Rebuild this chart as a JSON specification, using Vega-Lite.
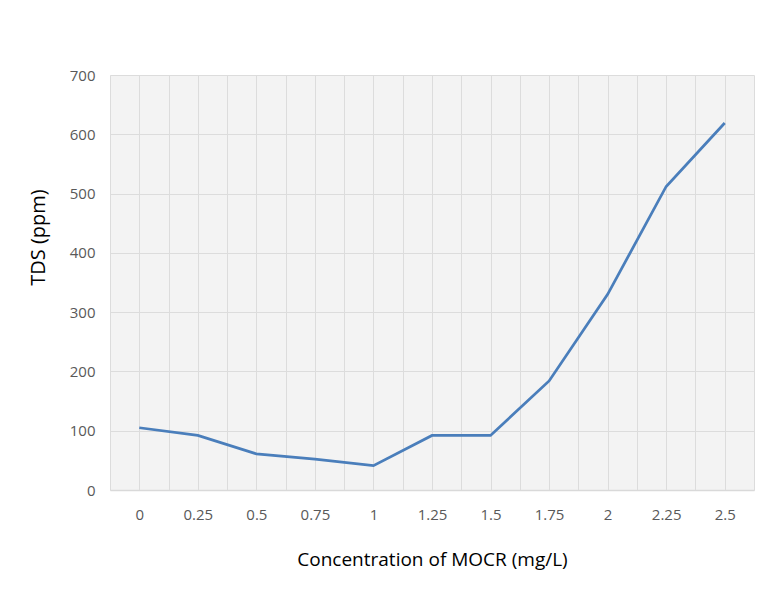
{
  "$schema": "https://vega.github.io/schema/vega-lite/v6.json",
  "width": 644,
  "height": 415,
  "autosize": {"type": "none"},
  "padding": {"left": 110, "top": 75, "right": 12, "bottom": 109},
  "background": "#ffffff",
  "config": {
    "font": "Open Sans",
    "view": {"fill": "#f3f3f3", "stroke": null}
  },
  "data": {
    "values": [
      {"conc": 0, "tds": 105},
      {"conc": 0.25, "tds": 92},
      {"conc": 0.5, "tds": 61},
      {"conc": 0.75, "tds": 52},
      {"conc": 1, "tds": 41},
      {"conc": 1.25, "tds": 92},
      {"conc": 1.5, "tds": 92},
      {"conc": 1.75, "tds": 184},
      {"conc": 2, "tds": 330},
      {"conc": 2.25, "tds": 512},
      {"conc": 2.5, "tds": 619}
    ]
  },
  "mark": {"type": "line", "color": "#4a7ebb", "strokeWidth": 2.75, "clip": false},
  "encoding": {
    "x": {
      "field": "conc",
      "type": "quantitative",
      "scale": {"domain": [-0.125, 2.625], "nice": false, "zero": false},
      "axis": {
        "title": "Concentration of MOCR (mg/L)",
        "values": [-0.125, 0, 0.125, 0.25, 0.375, 0.5, 0.625, 0.75, 0.875, 1, 1.125, 1.25, 1.375, 1.5, 1.625, 1.75, 1.875, 2, 2.125, 2.25, 2.375, 2.5, 2.625],
        "labelExpr": "(datum.value * 4) % 1 == 0 ? format(datum.value, '~g') : ''",
        "labelFontSize": 15,
        "labelColor": "#595959",
        "labelPadding": 17,
        "labelFlush": false,
        "labelOverlap": false,
        "ticks": false,
        "grid": true,
        "gridColor": "#dcdcdc",
        "gridWidth": 1,
        "domainColor": "#d9d9d9",
        "domainWidth": 1.5,
        "titleFontSize": 19,
        "titleFontWeight": "normal",
        "titleColor": "#000000",
        "titleY": 69,
        "titleBaseline": "middle"
      }
    },
    "y": {
      "field": "tds",
      "type": "quantitative",
      "scale": {"domain": [0, 700], "nice": false},
      "axis": {
        "title": "TDS (ppm)",
        "values": [0, 100, 200, 300, 400, 500, 600, 700],
        "labelFontSize": 15,
        "labelColor": "#595959",
        "labelPadding": 15,
        "ticks": false,
        "domain": false,
        "grid": true,
        "gridColor": "#dcdcdc",
        "gridWidth": 1,
        "titleFontSize": 20,
        "titleFontWeight": "normal",
        "titleColor": "#000000",
        "titleX": -72,
        "titleY": 162,
        "titleAlign": "center",
        "titleBaseline": "middle",
        "titleAngle": 270
      }
    }
  }
}
